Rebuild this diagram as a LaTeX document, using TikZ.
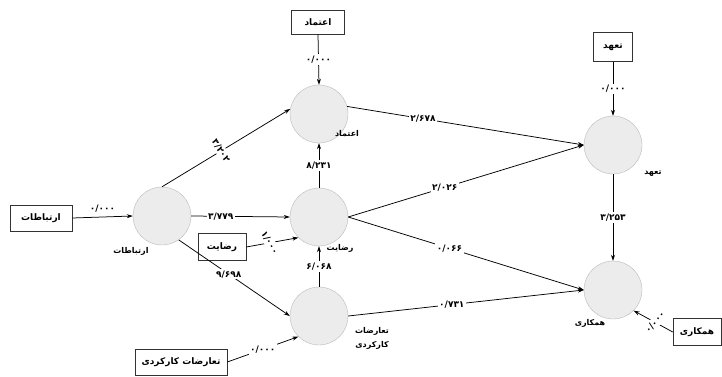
\documentclass[tikz,border=0pt]{standalone}
\usepackage{fontspec}
\TeXXeTstate=1
\newfontfamily\arabicfont[Script=Arabic]{DejaVu Sans}
\usetikzlibrary{arrows.meta}

\tikzset{
	latent/.style={circle, draw=gray!55, fill=gray!15, minimum size=58pt, inner sep=0pt},
	obs/.style={draw=black!80, rectangle, line width=0.6pt, minimum height=26pt, inner sep=3pt, font=\arabicfont\bfseries\fontsize{9}{10}\selectfont},
	coef/.style={fill=white, inner sep=1.5pt, font=\arabicfont\bfseries\fontsize{9}{10}\selectfont},
	vname/.style={inner sep=0pt, align=center, font=\arabicfont\bfseries\fontsize{8}{14}\selectfont},
	arr/.style={-{Stealth[length=6pt, width=4pt]}, line width=0.75pt, black}
}

\begin{document}
\begin{tikzpicture}[x=1pt, y=-1pt]
	\useasboundingbox (0,0) rectangle (722,377);
	% Variables latentes
	\node[latent] (rt) at (162,216) {};
	\node[latent] (et) at (319,114) {};
	\node[latent] (rz) at (319,217) {};
	\node[latent] (tk) at (319,316) {};
	\node[latent] (tah) at (613,145) {};
	\node[latent] (hm) at (613,290) {};
	% Noms des variables
	\node[vname] (rtl) at (131,251) {\beginR ارتباطات\endR};
	\node[vname] (etl) at (347,134) {\beginR اعتماد\endR};
	\node[vname] (rzl) at (340,248) {\beginR رضایت\endR};
	\node[vname] (tkl) at (372,338) {\beginR تعارضات\endR\\\beginR کارکردی\endR};
	\node[vname] (tahl) at (653,174) {\beginR تعهد\endR};
	\node[vname] (hml) at (590,323) {\beginR همکاری\endR};
	% Indicateurs
	\node[obs, minimum width=62pt] (rtb) at (41,218) {\beginR ارتباطات\endR};
	\node[obs, minimum width=53pt, minimum height=24pt] (etb) at (318,22) {\beginR اعتماد\endR};
	\node[obs, minimum width=48pt, minimum height=27pt] (rzb) at (222,247) {\beginR رضایت\endR};
	\node[obs, minimum width=92pt] (tkb) at (181,362) {\beginR تعارضات کارکردی\endR};
	\node[obs, minimum width=39pt, minimum height=29pt] (tahb) at (613,47) {\beginR تعهد\endR};
	\node[obs, minimum width=48pt, minimum height=27pt] (hmb) at (697,332) {\beginR همکاری\endR};
	% Chemins
	\draw[arr] (rtb.east) -- node[coef, above=3pt] {۰/۰۰۰} (rt.west);
	\draw[arr] (etb.south) -- node[coef] {۰/۰۰۰} (et.north);
	\draw[arr] (rt.north) -- node[coef, pos=0.46, rotate=-57] {۳/۲۰۲} (et.170);
	\draw[arr] (rt.east) -- node[coef, pos=0.3] {۳/۷۷۹} (rz.west);
	\draw[arr] (rt.-55) -- node[coef, pos=0.45] {۹/۶۹۸} (tk.west);
	\draw[arr] (rz.north) -- node[coef] {۸/۲۳۱} (et.south);
	\draw[arr] (tk.north) -- node[coef] {۶/۰۶۸} (rz.south);
	\draw[arr] (rzb.east) -- node[coef, pos=0.45, rotate=-60] {۱/۰۰۰} (rz.225);
	\draw[arr] (tkb.east) -- node[coef, pos=0.5] {۰/۰۰۰} (tk.225);
	\draw[arr] (et.15) -- node[coef, pos=0.32] {۲/۶۷۸} (tah.west);
	\draw[arr] (rz.east) -- node[coef, pos=0.41] {۲/۰۲۶} (tah.west);
	\draw[arr] (rz.east) -- node[coef, pos=0.43] {۰/۰۶۶} (hm.west);
	\draw[arr] (tk.east) -- node[coef, pos=0.44] {۰/۷۳۱} (hm.west);
	\draw[arr] (tah.south) -- node[coef] {۳/۲۵۳} (hm.north);
	\draw[arr] (tahb.south) -- node[coef] {۰/۰۰۰} (tah.north);
	\draw[arr] (hmb.west) -- node[coef, pos=0.45, rotate=50] {۰/۰۰۰} (hm.-45);
\end{tikzpicture}
\end{document}
